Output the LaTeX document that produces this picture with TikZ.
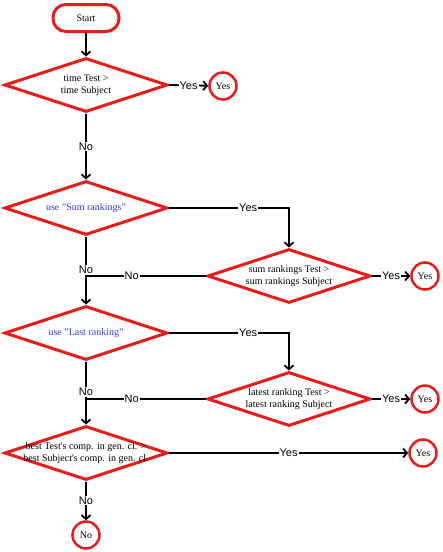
\documentclass[tikz,border=0pt]{standalone}
\usepackage{fontspec}
\setmainfont{Liberation Serif}
\setsansfont{Liberation Sans}
\usetikzlibrary{shapes.geometric,arrows.meta}
\definecolor{rd}{RGB}{232,28,28}
\definecolor{bl}{RGB}{55,55,225}
\begin{document}
\begin{tikzpicture}[x=1pt,y=-1pt,
 startbox/.style={rectangle,rounded corners=13pt,draw=rd,line width=3pt,minimum width=66pt,minimum height=27pt,inner sep=0pt,font=\fontsize{10}{12}\selectfont},
 dec/.style={diamond,draw=rd,line width=3pt,minimum width=163pt,minimum height=54pt,inner sep=0pt},
 term/.style={circle,draw=rd,line width=2.5pt,minimum size=27pt,inner sep=0pt,font=\fontsize{10}{12}\selectfont},
 conn/.style={line width=1.8pt},
 arr/.style={conn,-{Straight Barb[length=4pt,width=9pt,line width=1.8pt]}},
 lbl/.style={fill=white,inner sep=1pt,font=\sffamily\fontsize{11}{12}\selectfont},
 txt/.style={align=center,inner sep=0pt,font=\fontsize{10}{12}\selectfont},
 btxt/.style={txt,text=bl}
]
\useasboundingbox[fill=white] (0,0) rectangle (443,552);
\node[startbox] (start) at (86,18) {Start};
\node[dec,label={[txt]center:time Test >\\time Subject}] (d1) at (86,85) {};
\node[term] (y1) at (223,86) {Yes};
\node[dec,label={[btxt]center:use "Sum rankings"}] (d2) at (86,208) {};
\node[dec,label={[txt]center:sum rankings Test >\\sum rankings Subject}] (d3) at (289,276) {};
\node[term] (y3) at (425,276) {Yes};
\node[dec,label={[btxt]center:use "Last ranking"}] (d4) at (86,333) {};
\node[dec,label={[txt]center:latest ranking Test >\\latest ranking Subject}] (d5) at (289,399) {};
\node[term] (y5) at (425,399) {Yes};
\node[dec,label={[txt]center:best Test\textquotesingle s comp. in gen. cl. >\\best Subject\textquotesingle s comp. in gen. cl.}] (d6) at (86,453) {};
\node[term] (y6) at (423,453) {Yes};
\node[term] (n6) at (86,535) {No};

\draw[arr] (start) -- (d1);
\draw[arr] (d1.east) -- node[lbl]{Yes} (y1);
\draw[arr] (d1.south) -- node[lbl]{No} (d2.north);
\draw[arr] (d2.east) -- node[lbl,pos=0.66]{Yes} (d2.east -| d3.north) -- (d3.north);
\draw[arr] (d3.east) -- node[lbl]{Yes} (y3);
\draw[conn] (d3.west) -- node[lbl,pos=0.62]{No} (d3.west -| d2.south);
\draw[arr] (d2.south) -- node[lbl,pos=0.49]{No} (d4.north);
\draw[arr] (d4.east) -- node[lbl,pos=0.66]{Yes} (d4.east -| d5.north) -- (d5.north);
\draw[arr] (d5.east) -- node[lbl]{Yes} (y5);
\draw[conn] (d5.west) -- node[lbl,pos=0.62]{No} (d5.west -| d4.south);
\draw[arr] (d4.south) -- node[lbl,pos=0.48]{No} (d6.north);
\draw[arr] (d6.east) -- node[lbl,pos=0.5]{Yes} (y6);
\draw[arr] (d6.south) -- node[lbl,pos=0.49]{No} (n6);
\end{tikzpicture}
\end{document}
